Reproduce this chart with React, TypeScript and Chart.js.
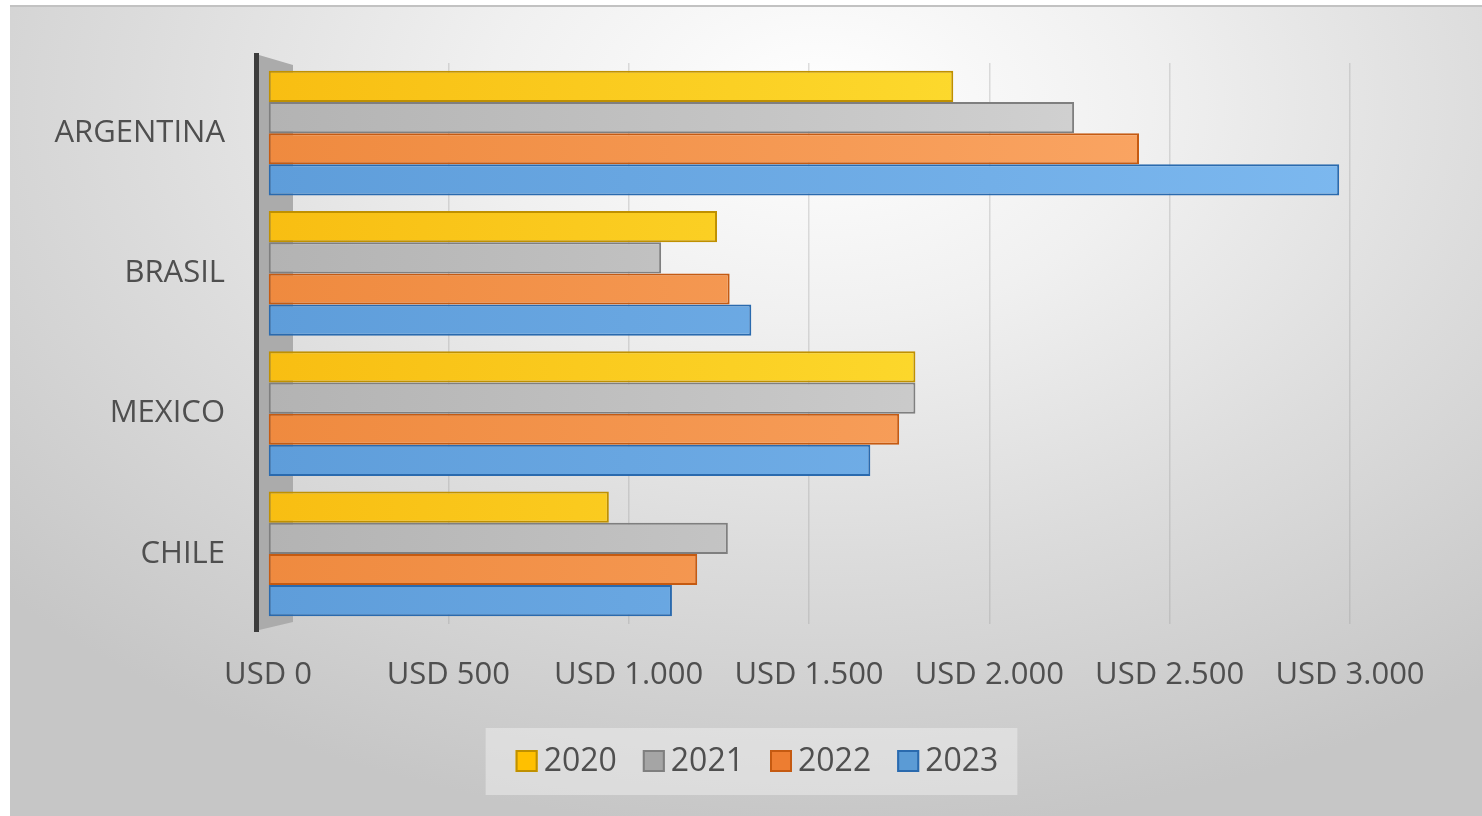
import React, { useEffect, useRef } from 'react';
import { Chart, registerables } from 'chart.js';

Chart.register(...registerables);

const countries = ['ARGENTINA', 'BRASIL', 'MEXICO', 'CHILE'];
const years = ['2020', '2021', '2022', '2023'];

const values2020 = [1900, 1245, 1795, 945];
const values2021 = [2235, 1090, 1795, 1275];
const values2022 = [2415, 1280, 1750, 1190];
const values2023 = [2970, 1340, 1670, 1120];

const xTickValues = [0, 500, 1000, 1500, 2000, 2500, 3000];

const seriesValues = [values2020, values2021, values2022, values2023];
const fillLeft = ['#F8BE12', '#B3B3B3', '#EF8A3F', '#5E9DDA'];
const fillRight = ['#FFE83C', '#DADADA', '#FCAA6A', '#7CB8EF'];
const borderColors = ['#BF9000', '#7F7F7F', '#C55A11', '#2A6AAE'];
const legendFills = ['#FFC000', '#A5A5A5', '#ED7D31', '#5B9BD5'];

const FONT = '"Open Sans", "DejaVu Sans", sans-serif';
const TEXT_COLOR = '#4f4f4f';

function formatUSD(v: number): string {
  const s = String(Math.round(v)).replace(/\B(?=(\d{3})+(?!\d))/g, '.');
  return 'USD ' + s;
}

const wallPlugin = {
  id: 'wall3d',
  beforeDatasetsDraw(chart: any) {
    const { ctx, chartArea } = chart;
    const { left, top, bottom } = chartArea;
    ctx.save();
    ctx.fillStyle = '#ababab';
    ctx.beginPath();
    ctx.moveTo(left - 9, top - 8);
    ctx.lineTo(left + 25, top + 2);
    ctx.lineTo(left + 25, bottom - 2);
    ctx.lineTo(left - 9, bottom + 6);
    ctx.closePath();
    ctx.fill();
    ctx.fillStyle = '#3c3c3c';
    ctx.fillRect(left - 14, top - 10, 5, bottom - top + 18);
    ctx.restore();
  },
};

const legendPlugin = {
  id: 'customLegend',
  afterDraw(chart: any) {
    const { ctx, width, height } = chart;
    ctx.save();
    ctx.font = '32px ' + FONT;
    const box = 22;
    const gap = 6;
    const itemGap = 26;
    const widths = chart.data.datasets.map((d: any) => ctx.measureText(d.label).width);
    const total = widths.reduce((a: number, w: number) => a + box + gap + w, 0) + itemGap * (widths.length - 1);
    const cx = width / 2 + 16;
    let x = cx - total / 2;
    const cy = height - 55;
    ctx.fillStyle = 'rgba(240,240,240,0.5)';
    ctx.fillRect(x - 30, cy - 33, total + 49, 67);
    chart.data.datasets.forEach((d: any, i: number) => {
      ctx.fillStyle = legendFills[i];
      ctx.fillRect(x, cy - box / 2, box, box);
      ctx.strokeStyle = borderColors[i];
      ctx.lineWidth = 2;
      ctx.strokeRect(x + 1, cy - box / 2 + 1, box - 2, box - 2);
      ctx.fillStyle = TEXT_COLOR;
      ctx.textBaseline = 'middle';
      ctx.textAlign = 'left';
      ctx.fillText(d.label, x + box + gap, cy + 1);
      x += box + gap + widths[i] + itemGap;
    });
    ctx.restore();
  },
};

export default function App() {
  const canvasRef = useRef<HTMLCanvasElement | null>(null);

  useEffect(() => {
    if (!canvasRef.current) return;
    const chart = new Chart(canvasRef.current, {
      type: 'bar',
      data: {
        labels: countries,
        datasets: years.map((y, i) => ({
          label: y,
          data: seriesValues[i],
          backgroundColor: (c: any) => {
            const area = c.chart.chartArea;
            if (!area) return fillLeft[i];
            const g = c.chart.ctx.createLinearGradient(area.left, 0, area.right, 0);
            g.addColorStop(0, fillLeft[i]);
            g.addColorStop(1, fillRight[i]);
            return g;
          },
          borderColor: borderColors[i],
          borderWidth: 2,
          borderSkipped: false,
          barPercentage: 1,
          categoryPercentage: 0.89,
        })),
      },
      options: {
        indexAxis: 'y',
        animation: false,
        responsive: true,
        maintainAspectRatio: false,
        layout: { padding: { top: 63, right: 132, bottom: 132, left: 0 } },
        plugins: {
          legend: { display: false },
          tooltip: { enabled: false },
        },
        scales: {
          x: {
            min: 0,
            max: 3000,
            afterBuildTicks: (scale: any) => {
              scale.ticks = xTickValues.map((v) => ({ value: v }));
            },
            afterFit: (scale: any) => {
              scale.height = 60;
            },
            grid: {
              display: true,
              drawTicks: false,
              color: (c: any) => (c.index === 0 ? 'rgba(0,0,0,0)' : 'rgba(150,150,150,0.3)'),
              lineWidth: 1.5,
            },
            border: { display: false },
            ticks: {
              padding: 33,
              color: TEXT_COLOR,
              font: { size: 31, family: FONT },
              maxRotation: 0,
              autoSkip: false,
              callback: (v: any) => formatUSD(Number(v)),
            },
          },
          y: {
            afterFit: (scale: any) => {
              scale.width = 268;
            },
            grid: { display: false, drawTicks: false },
            border: { display: false },
            ticks: {
              padding: 43,
              color: TEXT_COLOR,
              font: { size: 31, family: FONT },
            },
          },
        },
      },
      plugins: [wallPlugin, legendPlugin],
    });
    return () => chart.destroy();
  }, []);

  return (
    <div style={{ position: 'absolute', left: 0, top: 0, width: 1482, height: 816, background: '#ffffff' }}>
      <div
        style={{
          position: 'absolute',
          left: 10,
          top: 5,
          width: 1472,
          height: 811,
          borderTop: '2px solid #c2c2c2',
          boxSizing: 'border-box',
          background:
            'radial-gradient(ellipse 75% 90% at 55% 12%, #ffffff 0%, #f0f0f0 30%, #dcdcdc 62%, #c6c6c6 100%)',
        }}
      />
      <div style={{ position: 'absolute', left: 0, top: 0, width: 1482, height: 816 }}>
        <canvas ref={canvasRef} />
      </div>
    </div>
  );
}
